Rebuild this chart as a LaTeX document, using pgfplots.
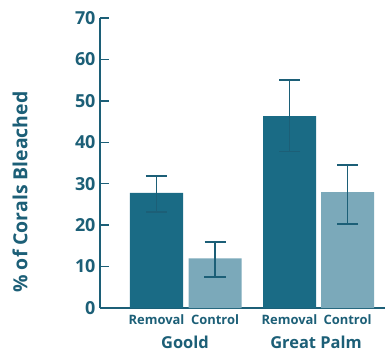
\documentclass[border=0pt]{standalone}
\usepackage{pgfplots}
\pgfplotsset{compat=1.18}
\usepackage{fontspec}
\setmainfont{Open Sans}
\definecolor{bardark}{HTML}{1A6B85}
\definecolor{barlight}{HTML}{7BA9BA}
\definecolor{ink}{HTML}{1C5F77}
\begin{document}
\begin{tikzpicture}
\begin{axis}[
  name=ax,
  scale only axis, width=285bp, height=290bp,
  xmin=100, xmax=385, ymin=0, ymax=70,
  axis x line*=bottom, axis y line*=left,
  axis line style={-, line width=1.7bp, color=ink},
  ytick={0,10,...,70},
  tick align=inside, major tick length=9bp,
  tick style={line width=1.4bp, color=ink},
  xtick={156.5,215,289.5,347.5},
  xticklabels={Removal,Control,Removal,Control},
  x tick style={draw=none},
  /pgf/number format/assume math mode=true,
  yticklabel style={font=\fontsize{18}{18}\selectfont\bfseries, text=ink, xshift=-1bp},
  xticklabel style={font=\fontsize{13}{13}\selectfont\bfseries, text=ink, yshift=-3bp},
  clip=false,
  bar width=53,
  error bars/error bar style={line width=1.8bp, color=ink},
  error bars/error mark=-,
  error bars/error mark options={rotate=90, line width=1.8bp, mark size=10.5bp, color=ink},
]
\addplot[ybar, fill=bardark, draw=none,
  error bars/.cd, y dir=both, y explicit]
  coordinates {
    (156.5,27.8) += (0,4.0) -= (0,4.6)
    (289.5,46.3) += (0,8.8) -= (0,8.5)
  };
\addplot[ybar, fill=barlight, draw=none,
  error bars/.cd, y dir=both, y explicit]
  coordinates {
    (215,12.0) += (0,4.0) -= (0,4.5)
    (347.5,28.0) += (0,6.6) -= (0,7.8)
  };
\node[font=\fontsize{16.5}{17}\selectfont\bfseries, text=ink] at (axis cs:185,0) [yshift=-34bp] {Goold};
\node[font=\fontsize{16.5}{17}\selectfont\bfseries, text=ink] at (axis cs:316,0) [yshift=-34bp] {Great Palm};
\node[rotate=90, font=\fontsize{19.5}{20}\selectfont\bfseries, text=ink] at (rel axis cs:-0.2807,0.4) {\% of Corals Bleached};
\end{axis}
\pgfresetboundingbox
\path[use as bounding box] (ax.south west) ++(-100bp,-48bp) rectangle ++(385bp,356bp);
\end{tikzpicture}
\end{document}
